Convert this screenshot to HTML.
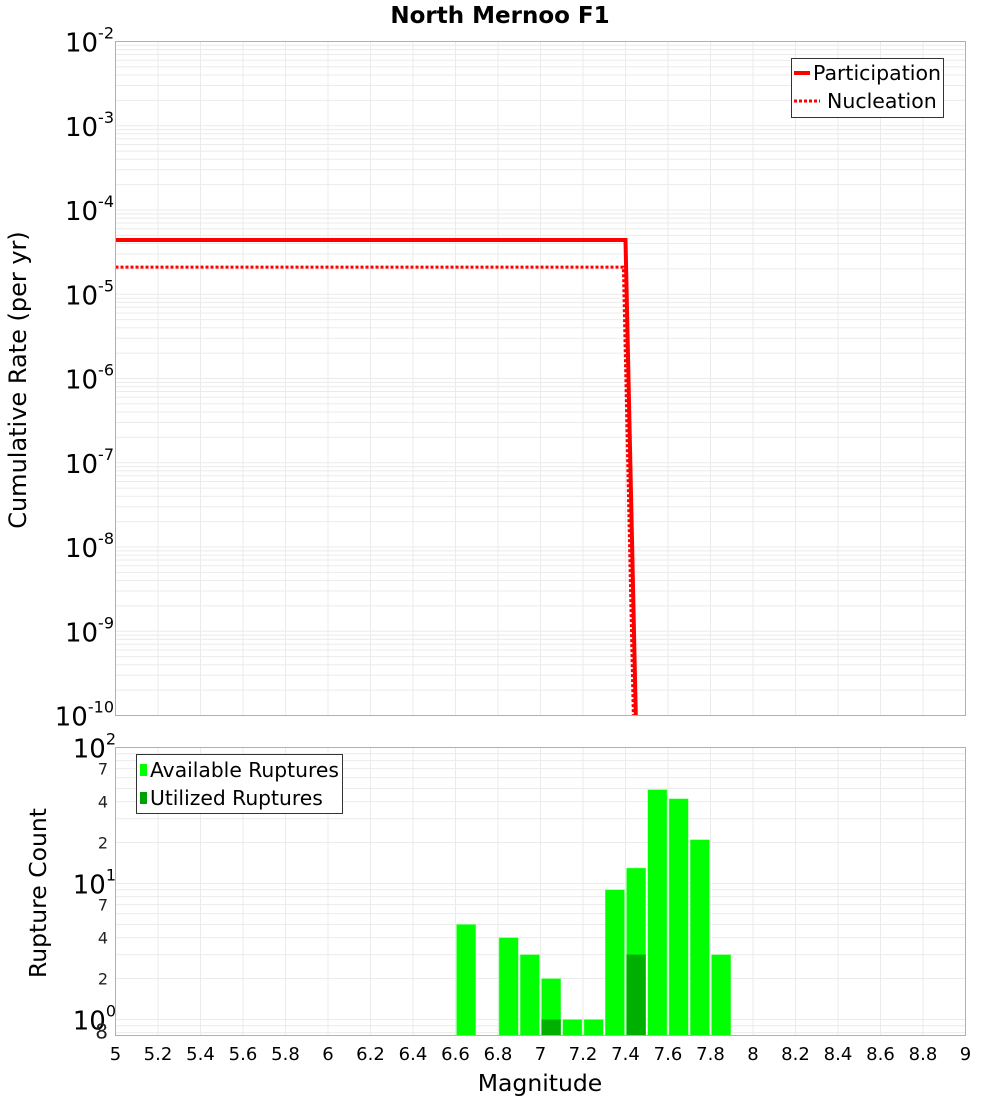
<!DOCTYPE html>
<html><head><meta charset="utf-8"><style>
html,body{margin:0;padding:0;background:#fff;overflow:hidden;width:1000px;height:1100px}
svg{display:block}
svg text{font-family:"DejaVu Sans","Liberation Sans",sans-serif}
</style></head><body>
<svg id="c" width="1000" height="1100" xmlns="http://www.w3.org/2000/svg">
<text x="500" y="23" text-anchor="middle" font-size="23" font-weight="bold">North Mernoo F1</text>
<text transform="translate(26,380) rotate(-90)" text-anchor="middle" font-size="24">Cumulative Rate (per yr)</text>
<text transform="translate(46,893) rotate(-90)" text-anchor="middle" font-size="23.5">Rupture Count</text>
<text x="540" y="1091" text-anchor="middle" font-size="23.5">Magnitude</text>
</svg>
<script>
const partM=[5,7.4,7.5];
const partRate=[4.4e-5,4.4e-5,1e-16];
const nuclM=[5,7.39,7.49];
const nuclRate=[2.1e-5,2.1e-5,1e-16];
const binStarts=[6.6,6.8,6.9,7.0,7.1,7.2,7.3,7.4,7.5,7.6,7.7,7.8];
const availCounts=[5,4,3,2,1,1,9,13,49,42,21,3];
const utilStarts=[7.0,7.4];
const utilCounts=[1,3];
const xTicks=[5,5.2,5.4,5.6,5.8,6,6.2,6.4,6.6,6.8,7,7.2,7.4,7.6,7.8,8,8.2,8.4,8.6,8.8,9];
const topExps=[-2,-3,-4,-5,-6,-7,-8,-9,-10];

const svg=document.getElementById('c');
const NS='http://www.w3.org/2000/svg';
function mk(t,a,p){const e=document.createElementNS(NS,t);for(const k in a)e.setAttribute(k,a[k]);(p||svg).appendChild(e);return e;}
const L=115.5,R=965.5;
const X=m=>L+(m-5)/4*(R-L);
const T0=41.5,T1=715.5;
const YT=v=>T0+(-2-Math.log10(v))/8*(T1-T0);
const B0=747.5,B1=1035.5;const dec=136;
const YB=v=>B0+(2-Math.log10(v))*dec;

let g=mk('g',{});


for(let e=-10;e<-2;e++)for(let k=1;k<10;k++){const y=YT(k*Math.pow(10,e));mk('line',{x1:L,x2:R,y1:y,y2:y,stroke:'#ebebeb','stroke-width':1},g);}
xTicks.forEach(t=>{const x=X(t);mk('line',{x1:x,x2:x,y1:T0,y2:T1,stroke:'#ebebeb'},g);});
let g2=mk('g',{});


for(let e=-1;e<2;e++)for(let k=1;k<10;k++){const y=YB(k*Math.pow(10,e));if(y>=B0&&y<=B1)mk('line',{x1:L,x2:R,y1:y,y2:y,stroke:'#ebebeb'},g2);}
xTicks.forEach(t=>{const x=X(t);mk('line',{x1:x,x2:x,y1:B0,y2:B1,stroke:'#ebebeb'},g2);});

mk('clipPath',{id:'ct'});
mk('rect',{x:L,y:T0,width:R-L,height:T1-T0},svg.lastChild);
let pl=mk('polyline',{points:partM.map((m,i)=>X(m)+','+YT(partRate[i])).join(' '),fill:'none',stroke:'#ff0000','stroke-width':4,'clip-path':'url(#ct)'});


let nl=mk('polyline',{points:nuclM.map((m,i)=>X(m)+','+YT(nuclRate[i])).join(' '),fill:'none',stroke:'#ff0000','stroke-width':3,'stroke-dasharray':'3,2','clip-path':'url(#ct)'});



binStarts.forEach((m,i)=>{const y=YB(availCounts[i]);const r=mk('rect',{x:X(m)+1,y:y,width:X(m+0.1)-X(m)-2,height:B1-y,fill:'#00ff00',stroke:'#80ff80','stroke-width':0.5});

});
utilStarts.forEach((m,i)=>{const y=YB(utilCounts[i]);const r=mk('rect',{x:X(m)+1,y:y,width:X(m+0.1)-X(m)-2,height:B1-y,fill:'#00b000'});

});

let f1=mk('rect',{x:L,y:T0,width:R-L,height:T1-T0,fill:'none',stroke:'#b0b0b0'});


let f2=mk('rect',{x:L,y:B0,width:R-L,height:B1-B0,fill:'none',stroke:'#b0b0b0'});



topExps.forEach(e=>{const y=YT(Math.pow(10,e));const t=mk('text',{x:114,y:y+10,'text-anchor':'end','font-size':26});t.innerHTML='10<tspan dy="-13" font-size="16">'+e+'</tspan>';

});
[[100,'2'],[10,'1'],[1,'0']].forEach(([v,e])=>{const y=YB(v);const t=mk('text',{x:116,y:y+10,'text-anchor':'end','font-size':26});t.innerHTML='10<tspan dy="-13" font-size="16">'+e+'</tspan>';

});
[70,40,20,7,4,2,0.8].forEach(v=>{const y=YB(v);const t=mk('text',{x:108,y:y+6,'text-anchor':'end','font-size':v==0.8?20:16,fill:'#222'});t.textContent=String(v>=10?v/10:(v<1?8:v));

});
xTicks.forEach(m=>{const t=mk('text',{x:X(m),y:1060,'text-anchor':'middle','font-size':18});t.textContent=String(m);

});

let lg=mk('g',{});


mk('rect',{x:791.5,y:58.5,width:152,height:59,fill:'#fff',stroke:'#333'},lg);
mk('line',{x1:794,x2:810,y1:73,y2:73,stroke:'#f00','stroke-width':4},lg);
mk('line',{x1:794,x2:820,y1:101,y2:101,stroke:'#f00','stroke-width':3,'stroke-dasharray':'3,2'},lg);
let t1=mk('text',{x:813,y:80,'font-size':20.5},lg);t1.textContent='Participation';
let t2=mk('text',{x:827,y:108,'font-size':20.5},lg);t2.textContent='Nucleation';
let lg2=mk('g',{});


mk('rect',{x:136.5,y:754.5,width:206,height:59,fill:'#fff',stroke:'#333'},lg2);
mk('rect',{x:140,y:764,width:7,height:12,fill:'#00ff00'},lg2);
mk('rect',{x:140,y:792,width:7,height:12,fill:'#00a000'},lg2);
let t3=mk('text',{x:150,y:777,'font-size':20.3},lg2);t3.textContent='Available Ruptures';
let t4=mk('text',{x:150,y:805,'font-size':20.3},lg2);t4.textContent='Utilized Ruptures';
</script>
</body></html>
